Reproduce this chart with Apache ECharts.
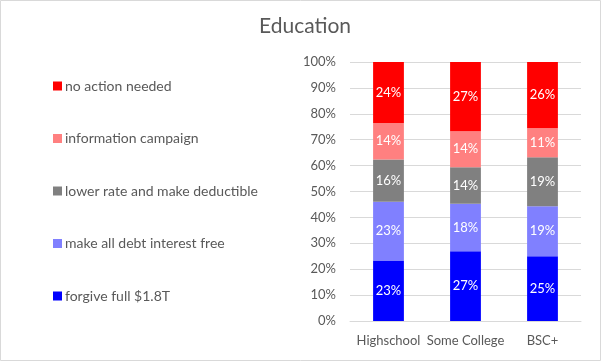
<!DOCTYPE html>
<html>
<head>
<meta charset="utf-8">
<script src="https://cdn.jsdelivr.net/npm/echarts@6/dist/echarts.min.js"></script>
<style>
html,body{margin:0;padding:0;background:#fff;}
#chart{width:601px;height:361px;}
</style>
</head>
<body>
<div id="chart"></div>
<script>
const categories = ['Highschool', 'Some College', 'BSC+'];
const seriesNames = ['forgive full $1.8T', 'make all debt interest free', 'lower rate and make deductible', 'information campaign', 'no action needed'];
const forgiveFull = [23.4, 26.9, 25.0];
const debtInterestFree = [22.6, 18.4, 19.3];
const lowerRate = [16.4, 14.1, 18.9];
const infoCampaign = [14.0, 13.9, 11.2];
const noAction = [23.6, 26.7, 25.6];
const yTicks = [0, 10, 20, 30, 40, 50, 60, 70, 80, 90, 100];

const colors = ['#0000FF', '#8080FF', '#808080', '#FF8080', '#FF0000'];
const values = [forgiveFull, debtInterestFree, lowerRate, infoCampaign, noAction];
const font = 'Lato, "Open Sans", sans-serif';

const chart = echarts.init(document.getElementById('chart'));
chart.setOption({
  animation: false,
  textStyle: {fontFamily: font},
  graphic: [{
    type: 'rect', silent: true, z: -10,
    shape: {x: 0.5, y: 0.5, width: 600, height: 360},
    style: {fill: '#fff', stroke: '#d9d9d9', lineWidth: 1}
  }],
  title: {
    text: 'Education', left: 300, top: 11, textAlign: 'center',
    textStyle: {fontFamily: font, fontSize: 21, fontWeight: 'normal', color: '#595959'}
  },
  legend: {
    orient: 'vertical', left: 48, top: 74,
    itemWidth: 9, itemHeight: 9, itemGap: 38.5,
    icon: 'rect',
    data: seriesNames.slice().reverse(),
    textStyle: {fontFamily: font, fontSize: 14, color: '#595959', lineHeight: 14, padding: [0, 0, 0, -2]}
  },
  grid: {left: 350, right: 20, top: 62, bottom: 40, containLabel: false},
  xAxis: {
    type: 'category', data: categories,
    axisLine: {lineStyle: {color: '#d9d9d9'}},
    axisTick: {show: false},
    axisLabel: {fontFamily: font, fontSize: 13, color: '#595959', margin: 13, interval: 0}
  },
  yAxis: {
    type: 'value', min: 0, max: 100, interval: 10,
    axisLine: {show: false}, axisTick: {show: false},
    splitLine: {lineStyle: {color: '#d9d9d9'}},
    axisLabel: {fontFamily: font, fontSize: 13, color: '#595959', margin: 14,
      formatter: v => yTicks.includes(v) ? v + '%' : ''}
  },
  series: seriesNames.map((name, i) => ({
    name, type: 'bar', stack: 'total', barWidth: '40%',
    itemStyle: {color: colors[i]},
    label: {show: true, position: 'inside', color: '#fff', fontFamily: font, fontSize: 13,
      formatter: p => Math.round(p.value) + '%'},
    data: values[i]
  }))
});
</script>
</body>
</html>
